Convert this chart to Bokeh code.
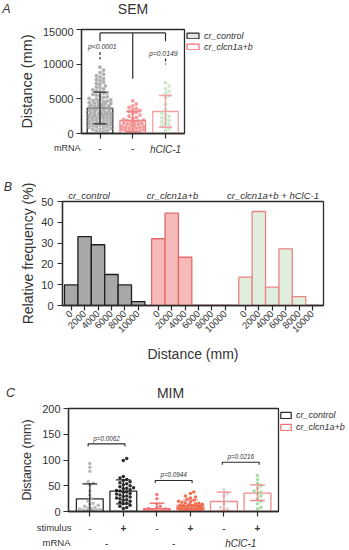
import math
from bokeh.plotting import figure
from bokeh.models import Range1d, FixedTicker, Label, Legend, LegendItem, LinearAxis
from bokeh.core.properties import value
from bokeh.layouts import column, row
from bokeh.embed import file_html
from bokeh.resources import INLINE

FONT = "Liberation Sans"
INK = "#2b2b2b"
TXT = "#333333"

# ---------------- Panel A : SEM ----------------
sem_mrna = ["-", "-", "hClC-1"]
sem_mean = [3650, 1875, 3170]
sem_err_low = [1400, 290, 900]
sem_err_high = [5960, 3170, 5480]
sem_control = [120, 260, 390, 480, 560, 640, 710, 800, 880, 950,
               1030, 1110, 1180, 1240, 1310, 1370, 1460, 1520, 1590, 1660, 1720,
               1810, 1870, 1930, 2010, 2080, 2130, 2210, 2290, 2340, 2420, 2480,
               2550, 2610, 2680, 2730, 2790, 2840, 2880, 2930, 2970, 1420, 2360,
               3040, 3100, 3170, 3230, 3300, 3380, 3440, 3510, 3570, 3650, 3720,
               3790, 3860, 3920, 3990, 4060, 4120, 4190, 4260, 4330, 4390, 4450,
               4520, 4600, 4680, 4750, 4830, 4900, 4960,
               5060, 5180, 5290, 5420, 5530, 5650, 5790, 5880, 6010, 6150, 6280,
               6420, 6560, 6710, 6880,
               7100, 7250, 7430, 7620, 7800, 7950, 8150, 8330, 8560, 8790,
               9150, 9560]
sem_clcn = [90, 180, 310, 370, 460, 530, 590, 660, 740, 790, 850, 910, 970,
            1040, 1120, 1210, 1290, 1350, 1440, 1530, 1600, 1680, 1770, 1850,
            1940, 2050, 2180, 2330, 2490, 2660, 2870,
            3080, 3190, 3320, 3460, 3610, 3780, 3990, 4260, 4710]
sem_rescue = [380, 690, 910, 1120, 1290, 1480, 1700, 1880, 2090, 2280, 2460,
              2690, 2910, 3420, 4230, 5180, 5470, 5790, 6080, 6430, 6840, 7320]
sem_pvalues = ["p<0.0001", "p=0.0149"]
sem_bracket = [14500, 13300, 7900]   # top, end drops, middle drop
legend_labels = ["cr_control", "cr_clcn1a+b"]

# ---------------- Panel B : histograms ----------------
hist_bins = ["0", "2000", "4000", "6000", "8000", "10000"]
hist_groups = ["cr_control", "cr_clcn1a+b", "cr_clcn1a+b + hClC-1"]
hist_control = [9.9, 33.1, 29.2, 14.9, 9.9, 1.9]
hist_clcn = [32.1, 44.4, 23.2, 0, 0, 0]
hist_rescue = [13.6, 45.2, 8.8, 27.2, 4.3, 0]

# ---------------- Panel C : MIM ----------------
mim_stimulus = ["-", "+", "-", "+", "-", "+"]
mim_mrna = ["-", "-", "hClC-1"]
mim_mean = [24.7, 39.4, 5.5, 11.7, 19.4, 35.5]
mim_err_low = [0, 15, 0, 0.7, 1.3, 21.4]
mim_err_high = [53.8, 61.5, 16, 22.7, 37.5, 51.8]
mim_ctrl_minus = [93, 86, 78, 58, 55, 52, 40, 32, 25, 20, 16, 14, 12, 10, 8, 7, 6, 5, 4, 3, 3, 2, 2, 1]
mim_ctrl_plus = [103, 99, 68, 65, 62, 60, 58, 56, 54, 52, 50, 48, 46, 45, 44, 42, 41, 40, 38, 37,
                 35, 34, 32, 30, 29, 28, 26, 25, 23, 22, 20, 18, 16, 15, 12, 10, 8, 6]
mim_clcn_minus = [33, 25, 15, 10, 8, 6, 5, 4, 3, 3, 2, 2, 1, 1, 1, 0.5, 0.5, 0.3, 0.2, 0.5]
mim_clcn_plus = [38, 35, 30, 28, 26, 24, 22, 20, 19, 18, 17, 16, 15, 14, 13, 12, 12, 11, 10, 10,
                 9, 9, 8, 8, 7, 7, 6, 6, 5, 5, 4, 4, 3, 3, 2, 2, 1, 1]
mim_resc_minus = [42, 35, 30, 20, 15, 8, 5, 3]
mim_resc_plus = [70, 62, 55, 50, 45, 40, 38, 35, 30, 25, 20, 15, 8, 5]
mim_pvalues = ["p=0.0062", "p=0.0944", "p=0.0216"]
mim_bracket_y = [131.4, 60.2, 95.7]


def swarm(values, center, ppx, ppy, dia, halfw):
    placed = []
    res = [0.0] * len(values)
    step = dia * 0.5
    maxoff = halfw * ppx
    cands = [0.0]
    k = 1
    while k * step <= maxoff:
        cands += [k * step, -k * step]
        k += 1
    order = sorted(range(len(values)), key=lambda i: values[i])
    for i in order:
        yv = values[i] * ppy
        best, bestc, bestd = None, 0.0, -1
        for c in cands:
            dmin = min([math.hypot(c - a, yv - b) for a, b in placed] or [1e9])
            if dmin >= dia:
                best = c
                break
            if dmin > bestd:
                bestd, bestc = dmin, c
        if best is None:
            best = bestc
        placed.append((best, yv))
        res[i] = center + best / ppx
    return res


def style(p):
    p.background_fill_color = "white"
    p.border_fill_color = "white"
    p.outline_line_color = INK
    p.outline_line_width = 1.3
    p.xgrid.visible = False
    p.ygrid.visible = False
    for ax in list(p.xaxis) + list(p.yaxis):
        ax.axis_line_color = INK
        ax.axis_line_width = 1.3
        ax.major_tick_line_color = INK
        ax.major_tick_line_width = 1.2
        ax.major_tick_out = 5
        ax.major_tick_in = 0
        ax.minor_tick_line_color = None
        ax.major_label_text_font = FONT
        ax.major_label_text_font_size = "11px"
        ax.major_label_text_color = TXT
        ax.axis_label_text_font = FONT
        ax.axis_label_text_font_style = "normal"
        ax.axis_label_text_color = TXT


def add_label(p, x, y, text, size, fstyle="normal"):
    p.add_layout(Label(x=x, y=y, text=text, text_font=FONT, text_font_size=size,
                       text_font_style=fstyle, text_align="center", text_baseline="middle",
                       text_color=TXT))


def make_fig(L, R, T, B, top, bottom, xr, yr, x0=0):
    p = figure(frame_width=R - L, frame_height=B - T, output_backend="svg",
               toolbar_location=None, x_range=Range1d(*xr), y_range=Range1d(*yr),
               min_border_left=L - x0, min_border_right=349 - R,
               min_border_top=T - top, min_border_bottom=bottom - B, frame_align=False)
    style(p)
    return p


def strip(top, bottom, left=0, right=349):
    s = figure(frame_width=right - left, frame_height=bottom - top, output_backend="svg",
               toolbar_location=None, x_range=Range1d(left, right), y_range=Range1d(bottom, top),
               x_axis_type=None, y_axis_type=None, frame_align=False,
               min_border_left=0, min_border_right=0, min_border_top=0, min_border_bottom=0)
    s.outline_line_color = None
    s.background_fill_color = "white"
    s.border_fill_color = "white"
    return s


def stext(s, xs, ys, texts, size, fstyle="normal", align="center", angle=0):
    s.text(x=xs, y=ys, text=texts, text_font=value(FONT), text_font_size=value(size),
           text_font_style=fstyle, text_align=align, text_baseline="middle", text_color=TXT,
           angle=angle)


def side_legend(p, colors_fill, colors_line, gw, gh, rowh, xr, yr):
    rs = [p.rect(x=[xr[0] - 10], y=[yr[0] - 10], width=0.1, height=0.1,
                 fill_color=f, line_color=l, line_width=1.2)
          for f, l in zip(colors_fill, colors_line)]
    leg = Legend(items=[LegendItem(label=t, renderers=[r]) for t, r in zip(legend_labels, rs)],
                 location="top_left", margin=1, padding=0, spacing=0,
                 glyph_width=gw, glyph_height=gh, label_height=rowh, label_standoff=4,
                 label_text_font=FONT, label_text_font_style="italic", label_text_font_size="9px",
                 label_text_color=TXT, border_line_color=None, background_fill_alpha=0)
    p.add_layout(leg, "right")


# ======================= Panel A =======================
AX = (-0.565, 2.58)
AY = (0, 15000)
A_L, A_R, A_T, A_B = 81, 184, 29, 133
A_TOP, A_BOT = 27, 140
fyA = lambda py: (A_B - py) / (A_B - A_T) * (AY[1] - AY[0])
ppxA = (A_R - A_L) / (AX[1] - AX[0])
pxA = lambda x: A_L + (x - AX[0]) * ppxA

pA = make_fig(A_L, A_R, A_T, A_B, A_TOP, A_BOT, AX, AY)
pA.xaxis.ticker = FixedTicker(ticks=[0, 1, 2])
pA.xaxis.major_label_overrides = {0: "", 1: "", 2: ""}
pA.xaxis.major_label_text_font_size = "0px"
pA.xaxis.major_label_standoff = 0
pA.yaxis.ticker = FixedTicker(ticks=[0, 5000, 10000, 15000])
pA.yaxis.axis_label = "Distance (mm)"
pA.yaxis.axis_label_text_font_size = "14.5px"
pA.yaxis.major_label_standoff = 3

a_line = [INK, "#ef8080", "#f2a0a0"]
a_dot = ["#a3a3a3", "#f28b8b", "#c4e4c4"]
pA.vbar(x=[0, 1, 2], top=sem_mean, width=0.78, fill_color=None,
        line_color=a_line, line_width=1.3)
ppyA = (A_B - A_T) / (AY[1] - AY[0])
for i, vals in enumerate([sem_control, sem_clcn, sem_rescue]):
    xs = swarm(vals, i, ppxA, ppyA, 3.6, 0.38)
    pA.scatter(xs, vals, size=3.8, fill_color=a_dot[i], line_color=None, fill_alpha=0.85)
pA.segment(x0=[0, 1, 2], y0=sem_err_low, x1=[0, 1, 2], y1=sem_err_high,
           line_color=a_line, line_width=1.3)
for yy in (sem_err_low, sem_err_high):
    pA.segment(x0=[x - 0.2 for x in range(3)], y0=yy, x1=[x + 0.2 for x in range(3)], y1=yy,
               line_color=a_line, line_width=1.3)
pA.segment(x0=[0, 0, 1, 2], y0=[sem_bracket[0]] * 4, x1=[2, 0, 1, 2],
           y1=[sem_bracket[0], sem_bracket[1], sem_bracket[2], sem_bracket[1]],
           line_color=INK, line_width=1.2)
pA.segment(x0=[0, 2], y0=[fyA(51.5), fyA(58)], x1=[0, 2], y1=[fyA(59), fyA(64)],
           line_color=INK, line_width=1.2, line_dash="3 2")
add_label(pA, 0.07, fyA(45.5), sem_pvalues[0], "6.8px", "italic")
add_label(pA, 1.93, fyA(53), sem_pvalues[1], "6.8px", "italic")
side_legend(pA, ["#e4e4e4", "white"], [INK, "#ef7070"], 15, 7, 11, AX, AY)

# ======================= Panel B =======================
BX = (-1.3, 37.65)
BY = (0, 50)
B_X0 = 36                      # left strip width (panel letter + y label)
B_L, B_R, B_T, B_B = 62, 323, 201, 305
B_TOP, B_BOT = 178, 367
dxB = lambda px: round(BX[0] + (px - B_L) / (B_R - B_L) * (BX[1] - BX[0]), 3)

pB = make_fig(B_L, B_R, B_T, B_B, B_TOP, B_BOT, BX, BY, x0=B_X0)
group_offsets = [0, 13, 26]
ticks = [g + 2 * i for g in group_offsets for i in range(len(hist_bins))]
pB.xaxis.ticker = FixedTicker(ticks=ticks)
pB.xaxis.major_label_overrides = {t: hist_bins[k % len(hist_bins)] for k, t in enumerate(ticks)}
pB.xaxis.major_label_orientation = math.pi / 4
pB.xaxis.major_label_text_font_size = "9.5px"
pB.xaxis.major_label_standoff = 2
pB.xaxis.axis_label = "Distance (mm)"
pB.xaxis.axis_label_text_font_size = "14px"
pB.xaxis.axis_label_standoff = 8
pB.yaxis.ticker = FixedTicker(ticks=[0, 10, 20, 30, 40, 50])
pB.yaxis.major_label_standoff = 4
# group names above the frame, as labels of an axis on top
grp_pos = [dxB(88.5), dxB(172), dxB(272.5)]
top_axis = LinearAxis(ticker=FixedTicker(ticks=grp_pos),
                      major_label_overrides={x: t for x, t in zip(grp_pos, hist_groups)},
                      axis_line_color=None, major_tick_line_color=None, minor_tick_line_color=None,
                      major_tick_out=0, major_tick_in=0, minor_tick_out=0, minor_tick_in=0,
                      axis_label_standoff=0,
                      major_label_standoff=1, major_label_text_font=FONT,
                      major_label_text_font_style="italic", major_label_text_font_size="9.5px",
                      major_label_text_color=TXT)
pB.add_layout(top_axis, "above")

b_fill = ["#a8a8a8", "#f7baba", "#e0efdd"]
b_line = ["#1e1e1e", "#e56a6a", "#e88585"]
for g, vals in enumerate([hist_control, hist_clcn, hist_rescue]):
    xs = [group_offsets[g] + 2 * i for i in range(len(vals))]
    pB.vbar(x=xs, top=vals, width=2, fill_color=b_fill[g], line_color=b_line[g], line_width=1.3)

sB = strip(B_TOP, B_BOT, 0, B_X0)
stext(sB, [7.5], [186], ["B"], "12.5px", "italic")
stext(sB, [27], [253], ["Relative frequency (%)"], "14px", angle=math.pi / 2)

# ======================= Panel C =======================
CX = (-0.635, 5.626)
CY = (0, 200)
C_L, C_R, C_T, C_B = 68, 278, 408, 511
C_TOP, C_BOT = 404, 520
ppxC = (C_R - C_L) / (CX[1] - CX[0])
pxC = lambda x: C_L + (x - CX[0]) * ppxC

pC = make_fig(C_L, C_R, C_T, C_B, C_TOP, C_BOT, CX, CY)
pC.xaxis.ticker = FixedTicker(ticks=list(range(6)))
pC.xaxis.major_label_overrides = {i: "" for i in range(6)}
pC.xaxis.major_label_text_font_size = "0px"
pC.xaxis.major_label_standoff = 0
pC.yaxis.ticker = FixedTicker(ticks=[0, 50, 100, 150, 200])
pC.yaxis.axis_label = "Distance (mm)"
pC.yaxis.axis_label_text_font_size = "12.5px"
pC.yaxis.major_label_standoff = 3

c_line = [INK, INK, "#ef7a7a", "#ef7a7a", "#f08a8a", "#f08a8a"]
c_dot = ["#b3b3b3", "#151515", "#f27070", "#f0603c", "#d9d0d0", "#9fd69a"]
xs6 = list(range(6))
pC.vbar(x=xs6, top=mim_mean, width=0.8, fill_color=None, line_color=c_line, line_width=1.3)
ppyC = (C_B - C_T) / (CY[1] - CY[0])
for i, vals in enumerate([mim_ctrl_minus, mim_ctrl_plus, mim_clcn_minus,
                          mim_clcn_plus, mim_resc_minus, mim_resc_plus]):
    xs = swarm(vals, i, ppxC, ppyC, 3.4, 0.36)
    pC.scatter(xs, vals, size=3.5, fill_color=c_dot[i], line_color=None, fill_alpha=0.9)
pC.segment(x0=xs6, y0=mim_err_low, x1=xs6, y1=mim_err_high, line_color=c_line, line_width=1.3)
for yy in (mim_err_low, mim_err_high):
    pC.segment(x0=[x - 0.22 for x in xs6], y0=yy, x1=[x + 0.22 for x in xs6], y1=yy,
               line_color=c_line, line_width=1.3)
for k, yb in enumerate(mim_bracket_y):
    a, b = 2 * k, 2 * k + 1
    pC.line([a - 0.05, a - 0.05, b + 0.05, b + 0.05], [yb - 5, yb, yb, yb - 5],
            line_color=INK, line_width=1.1)
    add_label(pC, (a + b) / 2, yb + 11, mim_pvalues[k], "6.3px", "italic")
side_legend(pC, ["white", "white"], [INK, "#ef7070"], 13, 8, 12, CX, CY)

# ======================= text strips =======================
s1 = strip(0, A_TOP)
stext(s1, [6], [8], ["A"], "12.5px", "italic")
stext(s1, [(A_L + A_R) / 2], [8.5], ["SEM"], "14px")

s2 = strip(A_BOT, B_TOP)
stext(s2, [80], [147], ["mRNA"], "9px", align="right")
stext(s2, [pxA(0), pxA(1)], [147.5, 147.5], sem_mrna[:2], "10px")
stext(s2, [pxA(2)], [148.5], sem_mrna[2:], "10px", "italic")

s3 = strip(B_BOT, C_TOP)
stext(s3, [10], [392], ["C"], "12.5px", "italic")
stext(s3, [170], [392], ["MIM"], "14px")

s4 = strip(C_BOT, 550)
stext(s4, [71], [527], ["stimulus"], "9.5px", align="right")
minus_i = [i for i, t in enumerate(mim_stimulus) if t == "-"]
plus_i = [i for i, t in enumerate(mim_stimulus) if t == "+"]
stext(s4, [pxC(i) for i in minus_i], [527] * len(minus_i), ["-"] * len(minus_i), "10px")
stext(s4, [pxC(i) for i in plus_i], [527] * len(plus_i), ["+"] * len(plus_i), "10px", "bold")
stext(s4, [70], [542], ["mRNA"], "9.5px", align="right")
stext(s4, [pxC(0.5), pxC(2.5)], [542.5, 542.5], mim_mrna[:2], "10px")
stext(s4, [pxC(4.5)], [543], mim_mrna[2:], "10px", "italic")

layout = column(s1, pA, s2, row(sB, pB), s3, pC, s4)
open("out.html", "w").write(file_html(layout, INLINE))
